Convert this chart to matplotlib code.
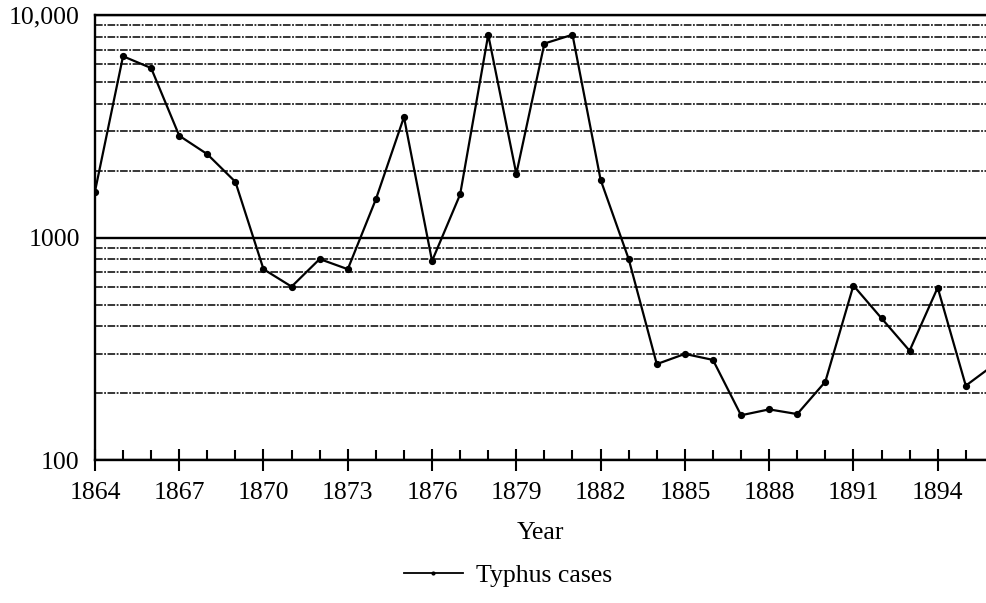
import matplotlib.pyplot as plt
from matplotlib.ticker import FixedLocator, FixedFormatter, LogLocator, NullFormatter, MultipleLocator
from matplotlib.lines import Line2D

# Data
years = list(range(1864, 1897))
cases = [1610, 6530, 5780, 2870, 2370, 1780, 721, 602, 801, 721,
         1486, 3480, 785, 1563, 8160, 1933, 7450, 8160, 1820, 801,
         270, 300, 282, 159, 169, 161, 225, 609, 434, 310,
         596, 216, 268]

ytick_values = [100, 1000, 10000]
ytick_labels = ['100', '1000', '10,000']
xtick_years = list(range(1864, 1897, 3))

plt.rcParams['font.family'] = ['Liberation Serif', 'DejaVu Serif']

fig = plt.figure(figsize=(9.86, 6.03), dpi=100)
ax = fig.add_axes([0.0963, 0.237, 0.9037, 0.738])

ax.set_yscale('log')
ax.set_ylim(100, 10000)
ax.set_xlim(1864, 1895.72)

# horizontal grid: solid at decades, dense dash-dot between
ax.yaxis.set_major_locator(FixedLocator(ytick_values))
ax.yaxis.set_major_formatter(FixedFormatter(ytick_labels))
ax.yaxis.set_minor_locator(LogLocator(base=10, subs=range(2, 10)))
ax.yaxis.set_minor_formatter(NullFormatter())
ax.grid(which='major', axis='y', color='black', linestyle='-', linewidth=1.7)
ax.grid(which='minor', axis='y', color='black', linestyle=(0, (5, 1, 1.2, 1)), linewidth=1.1)

line, = ax.plot(years, cases, color='black', linewidth=1.6,
                marker='o', markersize=4.2, clip_on=True, zorder=3)

ax.xaxis.set_major_locator(FixedLocator(xtick_years))
ax.xaxis.set_minor_locator(MultipleLocator(1))
ax.tick_params(axis='x', which='major', direction='inout', length=16, width=1.5,
               labelsize=18.5, pad=8)
ax.tick_params(axis='x', which='minor', direction='in', length=7, width=1.5)
ax.tick_params(axis='y', which='both', length=0, labelsize=18.5, pad=11)

for s in ['left', 'bottom', 'top']:
    ax.spines[s].set_linewidth(1.7)
ax.spines['right'].set_visible(False)

ax.set_xlabel('Year', fontsize=18.5, labelpad=13)

handle = Line2D([], [], color='black', linewidth=1.3, marker='o', markersize=2)
fig.legend([handle], ['Typhus cases'], loc='center', bbox_to_anchor=(0.515, 0.045),
           frameon=False, fontsize=18.5, handlelength=2.3, handletextpad=0.5, numpoints=1)

fig.savefig('out.png', dpi=100)
